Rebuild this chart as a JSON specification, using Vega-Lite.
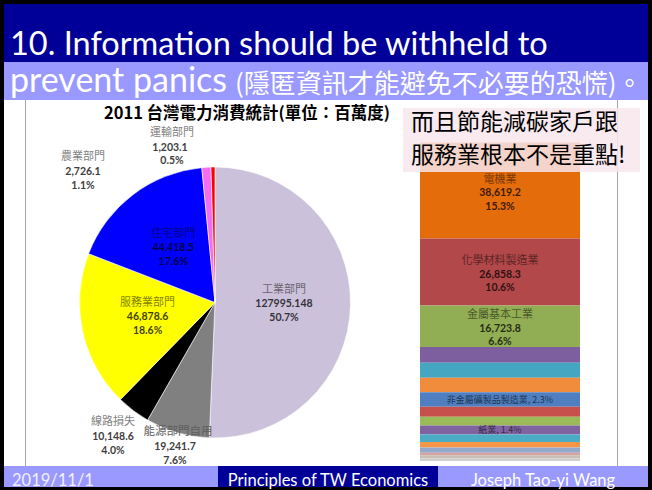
{
  "$schema": "https://vega.github.io/schema/vega-lite/v6.json",
  "background": "#000000",
  "padding": {"left": 4, "right": 4, "top": 4, "bottom": 3},
  "spacing": 0,
  "bounds": "flush",
  "config": {"view": {"stroke": null}, "text": {"font": "Lato"}},
  "vconcat": [
    {
      "width": 644, "height": 58,
      "view": {"fill": "#000099", "stroke": null},
      "data": {"values": [{"heading": "10. Information should be withheld to"}]},
      "mark": {"type": "text", "align": "left", "baseline": "alphabetic", "font": "Lato", "fontSize": 32.5, "color": "#ffffff"},
      "encoding": {
        "text": {"field": "heading", "type": "nominal"},
        "x": {"field": "heading", "type": "nominal", "scale": {"type": "point", "range": [6, 6]}, "axis": null},
        "y": {"field": "heading", "type": "nominal", "scale": {"type": "point", "range": [51, 51]}, "axis": null}
      }
    },
    {
      "width": 644, "height": 38,
      "view": {"fill": "#9999FF", "stroke": null},
      "data": {"values": [{"part": "prevent panics"}, {"part": "(隱匿資訊才能避免不必要的恐慌)。"}]},
      "encoding": {
        "text": {"field": "part", "type": "nominal"},
        "x": {"field": "part", "type": "nominal", "sort": null, "scale": {"type": "point", "domain": ["prevent panics", "(隱匿資訊才能避免不必要的恐慌)。"], "range": [6, 231], "padding": 0}, "axis": null},
        "y": {"field": "part", "type": "nominal", "sort": null, "scale": {"type": "point", "domain": ["prevent panics", "(隱匿資訊才能避免不必要的恐慌)。"], "range": [30, 31], "padding": 0}, "axis": null}
      },
      "layer": [
        {"transform": [{"filter": {"field": "part", "equal": "prevent panics"}}],
         "mark": {"type": "text", "align": "left", "baseline": "alphabetic", "font": "Lato", "fontSize": 34, "color": "#ffffff"}},
        {"transform": [{"filter": {"field": "part", "equal": "(隱匿資訊才能避免不必要的恐慌)。"}}],
         "mark": {"type": "text", "align": "left", "baseline": "alphabetic", "font": "Noto Sans CJK TC", "fontSize": 26, "color": "#ffffff"}}
      ]
    },
    {
      "width": 644, "height": 366,
      "view": {"fill": "#ffffff", "stroke": null},
      "resolve": {"scale": {"x": "independent", "y": "independent", "color": "independent", "theta": "independent"}},
      "layer": [
        {
          "data": {"values": [{"edge": "左"}, {"edge": "右"}]},
          "mark": {"type": "rule", "color": "#A6A6A6", "strokeWidth": 1},
          "encoding": {"x": {"field": "edge", "type": "nominal", "sort": null, "scale": {"type": "point", "domain": ["左", "右"], "range": [21.5, 613.5], "padding": 0}, "axis": null}}
        },
        {
          "data": {"values": [{"chartTitle": "2011 台灣電力消費統計(單位：百萬度)"}]},
          "mark": {"type": "text", "font": "Noto Sans CJK TC", "fontWeight": "bold", "fontSize": 16.5, "color": "#000000", "baseline": "middle"},
          "encoding": {
            "text": {"field": "chartTitle", "type": "nominal"},
            "x": {"field": "chartTitle", "type": "nominal", "scale": {"type": "point", "range": [243, 243]}, "axis": null},
            "y": {"field": "chartTitle", "type": "nominal", "scale": {"type": "point", "range": [13.5, 13.5]}, "axis": null}
          }
        },
        {
          "data": {"values": [
            {"year": "2011", "sector": "工業部門", "value": 127995.148, "valueText": "127995.148", "pct": "50.7%", "order": 1},
            {"year": "2011", "sector": "能源部門自用", "value": 19241.7, "valueText": "19,241.7", "pct": "7.6%", "order": 2},
            {"year": "2011", "sector": "線路損失", "value": 10148.6, "valueText": "10,148.6", "pct": "4.0%", "order": 3},
            {"year": "2011", "sector": "服務業部門", "value": 46878.6, "valueText": "46,878.6", "pct": "18.6%", "order": 4},
            {"year": "2011", "sector": "住宅部門", "value": 44418.5, "valueText": "44,418.5", "pct": "17.6%", "order": 5},
            {"year": "2011", "sector": "農業部門", "value": 2726.1, "valueText": "2,726.1", "pct": "1.1%", "order": 6},
            {"year": "2011", "sector": "運輸部門", "value": 1203.1, "valueText": "1,203.1", "pct": "0.5%", "order": 7}
          ]},
          "encoding": {
            "x": {"field": "year", "type": "nominal", "scale": {"type": "point", "range": [211, 211]}, "axis": null},
            "y": {"field": "year", "type": "nominal", "scale": {"type": "point", "range": [202.5, 202.5]}, "axis": null}
          },
          "layer": [
            {
              "mark": {"type": "arc", "radius": 135.5, "stroke": "#ffffff", "strokeWidth": 0.6},
              "encoding": {
                "theta": {"field": "value", "type": "quantitative", "stack": true},
                "order": {"field": "order", "type": "quantitative", "sort": "ascending"},
                "color": {"field": "sector", "type": "nominal", "legend": null,
                  "scale": {"domain": ["工業部門", "能源部門自用", "線路損失", "服務業部門", "住宅部門", "農業部門", "運輸部門"],
                            "range": ["#CCC1DA", "#808080", "#000000", "#FFFF00", "#0000FF", "#F46CF4", "#FF0000"]}}
              }
            },
            {
              "mark": {"type": "text", "radius": 69, "dy": -14, "font": "Noto Sans CJK TC", "fontSize": 11, "color": "#000000"},
              "encoding": {
                "theta": {"field": "value", "type": "quantitative", "stack": true},
                "order": {"field": "order", "type": "quantitative", "sort": "ascending"},
                "text": {"field": "sector", "type": "nominal"},
                "opacity": {"condition": {"test": "datum.sector == '工業部門' || datum.sector == '服務業部門' || datum.sector == '住宅部門'", "value": 0.5}, "value": 0}
              }
            },
            {
              "mark": {"type": "text", "radius": 69, "dy": 0, "font": "Lato", "fontWeight": "bold", "fontSize": 10.5, "color": "#000000"},
              "encoding": {
                "theta": {"field": "value", "type": "quantitative", "stack": true},
                "order": {"field": "order", "type": "quantitative", "sort": "ascending"},
                "text": {"field": "valueText", "type": "nominal"},
                "opacity": {"condition": {"test": "datum.sector == '工業部門' || datum.sector == '服務業部門' || datum.sector == '住宅部門'", "value": 0.75}, "value": 0}
              }
            },
            {
              "mark": {"type": "text", "radius": 69, "dy": 14, "font": "Lato", "fontWeight": "bold", "fontSize": 10.5, "color": "#000000"},
              "encoding": {
                "theta": {"field": "value", "type": "quantitative", "stack": true},
                "order": {"field": "order", "type": "quantitative", "sort": "ascending"},
                "text": {"field": "pct", "type": "nominal"},
                "opacity": {"condition": {"test": "datum.sector == '工業部門' || datum.sector == '服務業部門' || datum.sector == '住宅部門'", "value": 0.75}, "value": 0}
              }
            },
            {"transform": [{"filter": {"field": "sector", "equal": "農業部門"}}], "mark": {"type": "text", "dx": -132, "dy": -145.5, "font": "Noto Sans CJK TC", "fontSize": 11, "color": "#7F7F7F"}, "encoding": {"text": {"field": "sector", "type": "nominal"}}},
            {"transform": [{"filter": {"field": "sector", "equal": "農業部門"}}], "mark": {"type": "text", "dx": -132, "dy": -130.5, "font": "Lato", "fontWeight": "bold", "fontSize": 10.5, "color": "#404040"}, "encoding": {"text": {"field": "valueText", "type": "nominal"}}},
            {"transform": [{"filter": {"field": "sector", "equal": "農業部門"}}], "mark": {"type": "text", "dx": -132, "dy": -117, "font": "Lato", "fontWeight": "bold", "fontSize": 10.5, "color": "#404040"}, "encoding": {"text": {"field": "pct", "type": "nominal"}}},
            {"transform": [{"filter": {"field": "sector", "equal": "運輸部門"}}], "mark": {"type": "text", "dx": -43, "dy": -169.5, "font": "Noto Sans CJK TC", "fontSize": 11, "color": "#7F7F7F"}, "encoding": {"text": {"field": "sector", "type": "nominal"}}},
            {"transform": [{"filter": {"field": "sector", "equal": "運輸部門"}}], "mark": {"type": "text", "dx": -45, "dy": -155, "font": "Lato", "fontWeight": "bold", "fontSize": 10.5, "color": "#404040"}, "encoding": {"text": {"field": "valueText", "type": "nominal"}}},
            {"transform": [{"filter": {"field": "sector", "equal": "運輸部門"}}], "mark": {"type": "text", "dx": -43, "dy": -141.5, "font": "Lato", "fontWeight": "bold", "fontSize": 10.5, "color": "#404040"}, "encoding": {"text": {"field": "pct", "type": "nominal"}}},
            {"transform": [{"filter": {"field": "sector", "equal": "線路損失"}}], "mark": {"type": "text", "dx": -102, "dy": 119.5, "font": "Noto Sans CJK TC", "fontSize": 11, "color": "#7F7F7F"}, "encoding": {"text": {"field": "sector", "type": "nominal"}}},
            {"transform": [{"filter": {"field": "sector", "equal": "線路損失"}}], "mark": {"type": "text", "dx": -102, "dy": 134.5, "font": "Lato", "fontWeight": "bold", "fontSize": 10.5, "color": "#404040"}, "encoding": {"text": {"field": "valueText", "type": "nominal"}}},
            {"transform": [{"filter": {"field": "sector", "equal": "線路損失"}}], "mark": {"type": "text", "dx": -102, "dy": 148.5, "font": "Lato", "fontWeight": "bold", "fontSize": 10.5, "color": "#404040"}, "encoding": {"text": {"field": "pct", "type": "nominal"}}},
            {"transform": [{"filter": {"field": "sector", "equal": "能源部門自用"}}], "mark": {"type": "text", "dx": -37, "dy": 129.5, "font": "Noto Sans CJK TC", "fontSize": 11.5, "color": "#5E5E5E"}, "encoding": {"text": {"field": "sector", "type": "nominal"}}},
            {"transform": [{"filter": {"field": "sector", "equal": "能源部門自用"}}], "mark": {"type": "text", "dx": -40, "dy": 144.5, "font": "Lato", "fontWeight": "bold", "fontSize": 10.5, "color": "#404040"}, "encoding": {"text": {"field": "valueText", "type": "nominal"}}},
            {"transform": [{"filter": {"field": "sector", "equal": "能源部門自用"}}], "mark": {"type": "text", "dx": -40, "dy": 158.5, "font": "Lato", "fontWeight": "bold", "fontSize": 10.5, "color": "#404040"}, "encoding": {"text": {"field": "pct", "type": "nominal"}}}
          ]
        },
        {
          "data": {"values": [
            {"parent": "工業部門", "industry": "電機業", "value": 38619.2, "order": 1, "valueText": "38,619.2", "pct": "15.3%"},
            {"parent": "工業部門", "industry": "化學材料製造業", "value": 26858.3, "order": 2, "valueText": "26,858.3", "pct": "10.6%"},
            {"parent": "工業部門", "industry": "金屬基本工業", "value": 16723.8, "order": 3, "valueText": "16,723.8", "pct": "6.6%"},
            {"parent": "工業部門", "industry": "其他細項1", "value": 6315, "order": 4},
            {"parent": "工業部門", "industry": "其他細項2", "value": 6063, "order": 5},
            {"parent": "工業部門", "industry": "其他細項3", "value": 5810, "order": 6},
            {"parent": "工業部門", "industry": "非金屬礦製品製造業", "value": 5810, "order": 7, "tag": "非金屬礦製品製造業, 2.3%"},
            {"parent": "工業部門", "industry": "其他細項4", "value": 4042, "order": 8},
            {"parent": "工業部門", "industry": "其他細項5", "value": 3537, "order": 9},
            {"parent": "工業部門", "industry": "紙業", "value": 3537, "order": 10, "tag": "紙業, 1.4%"},
            {"parent": "工業部門", "industry": "其他細項6", "value": 3031, "order": 11},
            {"parent": "工業部門", "industry": "其他細項7", "value": 2273, "order": 12},
            {"parent": "工業部門", "industry": "其他細項8", "value": 2021, "order": 13},
            {"parent": "工業部門", "industry": "其他細項9", "value": 1010, "order": 14},
            {"parent": "工業部門", "industry": "其他細項10", "value": 1263, "order": 15},
            {"parent": "工業部門", "industry": "其他細項11", "value": 1082, "order": 16}
          ]},
          "transform": [{"stack": "value", "groupby": [], "sort": [{"field": "order", "order": "ascending"}], "as": ["s0", "s1"]}],
          "encoding": {
            "x": {"field": "parent", "type": "nominal", "scale": {"type": "band", "range": [416, 576], "paddingInner": 0, "paddingOuter": 0}, "axis": null}
          },
          "layer": [
            {
              "mark": {"type": "bar"},
              "encoding": {
                "y": {"field": "s0", "type": "quantitative", "scale": {"domain": [0, 127995.148], "range": [42.5, 361], "nice": false, "zero": false}, "axis": null},
                "y2": {"field": "s1"},
                "color": {"field": "industry", "type": "nominal", "legend": null,
                  "scale": {"domain": ["電機業", "化學材料製造業", "金屬基本工業", "其他細項1", "其他細項2", "其他細項3", "非金屬礦製品製造業", "其他細項4", "其他細項5", "紙業", "其他細項6", "其他細項7", "其他細項8", "其他細項9", "其他細項10", "其他細項11"],
                            "range": ["#E46C0A", "#B3484A", "#92AE55", "#7D5FA0", "#45A6C2", "#F08C3C", "#4F7FC0", "#C8504C", "#9BBB59", "#8064A2", "#4BACC6", "#F79646", "#94A9CC", "#D9A1A0", "#C9BFB4", "#CFCFCF"]}}
              }
            },
            {
              "transform": [
                {"fold": ["s0", "s1"], "as": ["edge", "pos"]},
                {"joinaggregate": [{"op": "mean", "field": "pos", "as": "mid"}], "groupby": ["industry"]},
                {"filter": "datum.edge == 's0'"}
              ],
              "encoding": {"y": {"field": "mid", "type": "quantitative", "axis": null}},
              "layer": [
                {"transform": [{"filter": "isValid(datum.valueText)"}], "mark": {"type": "text", "dy": -11, "font": "Noto Sans CJK TC", "fontSize": 11, "color": "#000000", "opacity": 0.5}, "encoding": {"text": {"field": "industry", "type": "nominal"}}},
                {"transform": [{"filter": "isValid(datum.valueText)"}], "mark": {"type": "text", "dy": 2.5, "font": "Lato", "fontWeight": "bold", "fontSize": 10.5, "color": "#000000", "opacity": 0.75}, "encoding": {"text": {"field": "valueText", "type": "nominal"}}},
                {"transform": [{"filter": "isValid(datum.valueText)"}], "mark": {"type": "text", "dy": 16, "font": "Lato", "fontWeight": "bold", "fontSize": 10.5, "color": "#000000", "opacity": 0.75}, "encoding": {"text": {"field": "pct", "type": "nominal"}}},
                {"transform": [{"filter": "isValid(datum.tag)"}], "mark": {"type": "text", "font": "Noto Sans CJK TC", "fontSize": 9, "color": "#000000", "opacity": 0.6}, "encoding": {"text": {"field": "tag", "type": "nominal"}}}
              ]
            }
          ]
        },
        {
          "data": {"values": [{"note": "而且節能減碳家戶跟\n服務業根本不是重點!"}]},
          "mark": {"type": "rect", "color": "#F7E6EC", "opacity": 0.85},
          "encoding": {
            "x": {"field": "note", "type": "nominal", "scale": {"type": "band", "range": [399, 636], "paddingInner": 0, "paddingOuter": 0}, "axis": null},
            "y": {"field": "note", "type": "nominal", "scale": {"type": "band", "range": [8, 72], "paddingInner": 0, "paddingOuter": 0}, "axis": null}
          }
        },
        {
          "data": {"values": [{"note": "而且節能減碳家戶跟\n服務業根本不是重點!"}]},
          "mark": {"type": "text", "align": "left", "baseline": "middle", "lineBreak": "\n", "lineHeight": 33.5, "font": "Noto Sans CJK TC", "fontSize": 23, "color": "#000000"},
          "encoding": {
            "text": {"field": "note", "type": "nominal"},
            "x": {"field": "note", "type": "nominal", "scale": {"type": "point", "range": [407, 407]}, "axis": null},
            "y": {"field": "note", "type": "nominal", "scale": {"type": "point", "range": [22.5, 22.5]}, "axis": null}
          }
        }
      ]
    },
    {
      "spacing": 0,
      "bounds": "flush",
      "hconcat": [
        {
          "width": 214, "height": 21,
          "view": {"fill": "#9999FF", "stroke": null},
          "data": {"values": [{"footer": "2019/11/1"}]},
          "mark": {"type": "text", "align": "left", "baseline": "alphabetic", "font": "Lato", "fontSize": 16.5, "color": "#F0F0FF"},
          "encoding": {
            "text": {"field": "footer", "type": "nominal"},
            "x": {"field": "footer", "type": "nominal", "scale": {"type": "point", "range": [8, 8]}, "axis": null},
            "y": {"field": "footer", "type": "nominal", "scale": {"type": "point", "range": [20, 20]}, "axis": null}
          }
        },
        {
          "width": 220, "height": 21,
          "view": {"fill": "#000099", "stroke": null},
          "data": {"values": [{"footer": "Principles of TW Economics"}]},
          "mark": {"type": "text", "align": "center", "baseline": "alphabetic", "font": "Lato", "fontSize": 16.5, "color": "#FFFFFF"},
          "encoding": {
            "text": {"field": "footer", "type": "nominal"},
            "y": {"field": "footer", "type": "nominal", "scale": {"type": "point", "range": [20, 20]}, "axis": null}
          }
        },
        {
          "width": 210, "height": 21,
          "view": {"fill": "#9999FF", "stroke": null},
          "data": {"values": [{"footer": "Joseph Tao-yi Wang"}]},
          "mark": {"type": "text", "align": "center", "baseline": "alphabetic", "font": "Lato", "fontSize": 16.5, "color": "#FFFFFF"},
          "encoding": {
            "text": {"field": "footer", "type": "nominal"},
            "y": {"field": "footer", "type": "nominal", "scale": {"type": "point", "range": [20, 20]}, "axis": null}
          }
        }
      ]
    }
  ]
}
